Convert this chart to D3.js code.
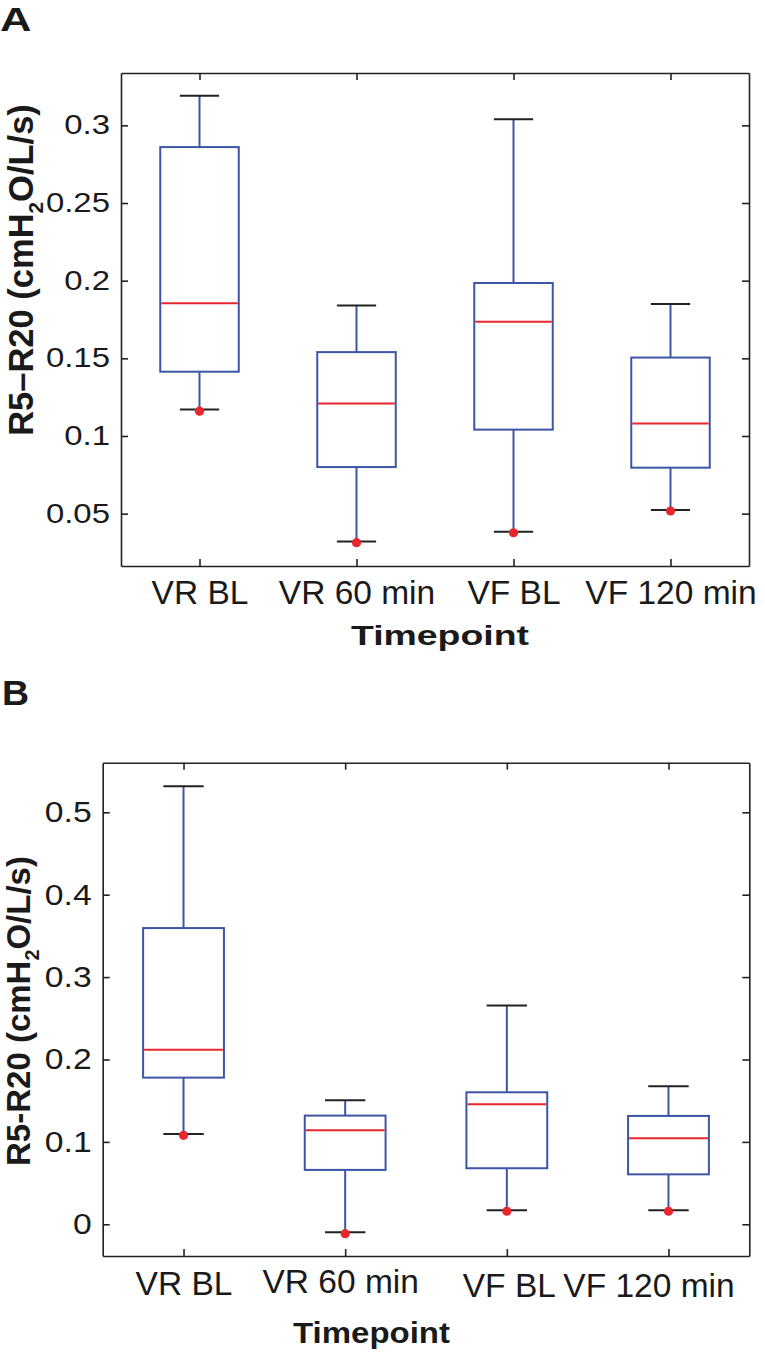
<!DOCTYPE html>
<html>
<head>
<meta charset="utf-8">
<script src="https://cdn.jsdelivr.net/npm/d3@7"></script>
<style>
  html, body { margin: 0; padding: 0; background: #fff; }
  svg { display: block; }
  text { font-family: "Liberation Sans", Arial, Helvetica, sans-serif; fill: #1a1a1a; }
</style>
</head>
<body>
<svg id="chart" width="765" height="1352"></svg>
<script>
// ---------------- DATA ----------------
const categories = ["VR BL", "VR 60 min", "VF BL", "VF 120 min"];

// Panel A
const whiskerHighA = [0.319, 0.184, 0.304, 0.185];
const q3A          = [0.286, 0.154, 0.1985, 0.1505];
const medianA      = [0.1854, 0.121, 0.1736, 0.108];
const q1A          = [0.1414, 0.080, 0.1041, 0.0796];
const whiskerLowA  = [0.117, 0.032, 0.0384, 0.0523];
const dotA         = [0.116, 0.0313, 0.0377, 0.0517];
const yTickValsA   = [0.05, 0.1, 0.15, 0.2, 0.25, 0.3];
const yTickLabelsA = ["0.05", "0.1", "0.15", "0.2", "0.25", "0.3"];

// Panel B
const whiskerHighB = [0.5316, 0.1505, 0.2655, 0.1675];
const q3B          = [0.3595, 0.1319, 0.1602, 0.1315];
const medianB      = [0.2118, 0.1141, 0.1456, 0.1044];
const q1B          = [0.178, 0.066, 0.068, 0.0606];
const whiskerLowB  = [0.1097, -0.0097, 0.017, 0.017];
const dotB         = [0.108, -0.0114, 0.0158, 0.0158];
const yTickValsB   = [0, 0.1, 0.2, 0.3, 0.4, 0.5];
const yTickLabelsB = ["0", "0.1", "0.2", "0.3", "0.4", "0.5"];

// ---------------- STYLE / LAYOUT ----------------
const BLUE = "#3c55a5", RED = "#e8262d", AX = "#222";
const FONT = "Liberation Sans, Arial, sans-serif";
const svg = d3.select("#chart");

function drawPanel(o) {
  const x = d3.scaleLinear().domain([0.5, categories.length + 0.5]).range([o.left, o.right]);
  const y = d3.scaleLinear().domain(o.yDomain).range([o.bottom, o.top]);
  const g = svg.append("g");
  const idx = categories.map((c, i) => i + 1);

  const boxW = 0.5, capW = 0.25;
  const data = categories.map((c, i) => ({
    pos: i + 1, hi: o.hi[i], q3: o.q3[i], med: o.med[i], q1: o.q1[i], lo: o.lo[i], dot: o.dot[i]
  }));
  const bg = g.selectAll("g.box").data(data).join("g").attr("class", "box");
  bg.append("line").attr("x1", d => x(d.pos)).attr("x2", d => x(d.pos))
    .attr("y1", d => y(d.hi)).attr("y2", d => y(d.q3)).attr("stroke", BLUE).attr("stroke-width", 2);
  bg.append("line").attr("x1", d => x(d.pos)).attr("x2", d => x(d.pos))
    .attr("y1", d => y(d.q1)).attr("y2", d => y(d.lo)).attr("stroke", BLUE).attr("stroke-width", 2);
  bg.append("line").attr("x1", d => x(d.pos - capW / 2)).attr("x2", d => x(d.pos + capW / 2))
    .attr("y1", d => y(d.hi)).attr("y2", d => y(d.hi)).attr("stroke", AX).attr("stroke-width", 2);
  bg.append("line").attr("x1", d => x(d.pos - capW / 2)).attr("x2", d => x(d.pos + capW / 2))
    .attr("y1", d => y(d.lo)).attr("y2", d => y(d.lo)).attr("stroke", AX).attr("stroke-width", 2);
  bg.append("rect").attr("x", d => x(d.pos - boxW / 2)).attr("width", d => x(d.pos + boxW / 2) - x(d.pos - boxW / 2))
    .attr("y", d => y(d.q3)).attr("height", d => y(d.q1) - y(d.q3))
    .attr("fill", "none").attr("stroke", BLUE).attr("stroke-width", 2);
  bg.append("line").attr("x1", d => x(d.pos - boxW / 2) + 1).attr("x2", d => x(d.pos + boxW / 2) - 1)
    .attr("y1", d => y(d.med)).attr("y2", d => y(d.med)).attr("stroke", RED).attr("stroke-width", 2);
  bg.append("circle").attr("cx", d => x(d.pos)).attr("cy", d => y(d.dot)).attr("r", 4.6).attr("fill", RED);

  const styleAxis = sel => {
    sel.selectAll("path.domain").attr("stroke", AX).attr("stroke-width", 1.6);
    sel.selectAll(".tick line").attr("stroke", AX).attr("stroke-width", 1.6);
  };
  const left = g.append("g").attr("transform", `translate(${o.left},0)`)
    .call(d3.axisLeft(y).tickValues(o.yTicks).tickFormat((d, i) => o.yLabels[i])
      .tickSizeInner(-7).tickSizeOuter(0).tickPadding(o.yPad));
  left.call(styleAxis);
  left.selectAll(".tick text").attr("font-size", o.yFont).attr("fill", "#1a1a1a").attr("font-family", FONT)
    .attr("x", 0).attr("transform", `translate(${-o.yPad},0) scale(${o.yScale},1)`);

  const right = g.append("g").attr("transform", `translate(${o.right},0)`)
    .call(d3.axisRight(y).tickValues(o.yTicks).tickFormat("").tickSizeInner(-7).tickSizeOuter(0));
  right.call(styleAxis);

  const top = g.append("g").attr("transform", `translate(0,${o.top})`)
    .call(d3.axisTop(x).tickValues(idx).tickFormat("").tickSizeInner(-7).tickSizeOuter(0));
  top.call(styleAxis);

  const bottom = g.append("g").attr("transform", `translate(0,${o.bottom})`)
    .call(d3.axisBottom(x).tickValues(idx).tickFormat((d, i) => categories[i])
      .tickSizeInner(-7).tickSizeOuter(0));
  bottom.call(styleAxis);
  bottom.selectAll(".tick text")
    .attr("font-size", o.xFont).attr("fill", "#1a1a1a").attr("font-family", FONT)
    .attr("dy", null).attr("y", o.xBase)
    .attr("transform", (d, i) => `translate(${o.xOff[i]},${o.xOffY[i]})`);

  // x title
  svg.append("text").attr("x", o.xTitleX).attr("y", o.xTitleY).attr("text-anchor", "middle")
    .attr("font-size", o.xTitleFont).attr("font-weight", "bold")
    .attr("textLength", o.xTitleLen).attr("lengthAdjust", "spacingAndGlyphs").text("Timepoint");

  // y title
  const yt = svg.append("text").attr("transform", `translate(${o.yTitleX},${o.yTitleY}) rotate(-90)`)
    .attr("text-anchor", "middle").attr("font-size", o.yTitleFont).attr("font-weight", "bold");
  yt.append("tspan").text(o.yTitlePre);
  yt.append("tspan").attr("font-size", o.yTitleFont * 0.6).attr("dy", o.yTitleFont * 0.28).text("2");
  yt.append("tspan").attr("dy", -o.yTitleFont * 0.28).text("O/L/s)");

  // panel letter
  svg.append("text").attr("transform", `translate(${o.letterX},${o.letterY}) scale(${o.letterScale},1)`)
    .attr("font-size", o.letterFont).attr("font-weight", "bold").text(o.letter);
}

drawPanel({
  left: 121, right: 749, top: 73, bottom: 566, yDomain: [0.0163, 0.3337],
  hi: whiskerHighA, q3: q3A, med: medianA, q1: q1A, lo: whiskerLowA, dot: dotA,
  yTicks: yTickValsA, yLabels: yTickLabelsA, yPad: 11, yFont: 27, yScale: 1.22,
  xFont: 33.5, xBase: 38, xOff: [0, 0, 0, 0], xOffY: [0, 0, 0, 0],
  xTitleX: 440, xTitleY: 645, xTitleFont: 28.5, xTitleLen: 178,
  yTitleX: 33, yTitleY: 270, yTitleFont: 34.5, yTitlePre: "R5\u2013R20 (cmH",
  letter: "A", letterX: 0, letterY: 31, letterFont: 33.5, letterScale: 1.3
});

drawPanel({
  left: 102.7, right: 749.3, top: 762.7, bottom: 1256, yDomain: [-0.0385, 0.5602],
  hi: whiskerHighB, q3: q3B, med: medianB, q1: q1B, lo: whiskerLowB, dot: dotB,
  yTicks: yTickValsB, yLabels: yTickLabelsB, yPad: 11, yFont: 29.3, yScale: 1.15,
  xFont: 33.5, xBase: 39, xOff: [0, -5, 2, -20], xOffY: [0, -2.5, 1.5, 1.5],
  xTitleX: 371.5, xTitleY: 1343, xTitleFont: 29, xTitleLen: 157,
  yTitleX: 30, yTitleY: 1011, yTitleFont: 33, yTitlePre: "R5-R20 (cmH",
  letter: "B", letterX: 2, letterY: 705, letterFont: 35, letterScale: 1.07
});
</script>
</body>
</html>
